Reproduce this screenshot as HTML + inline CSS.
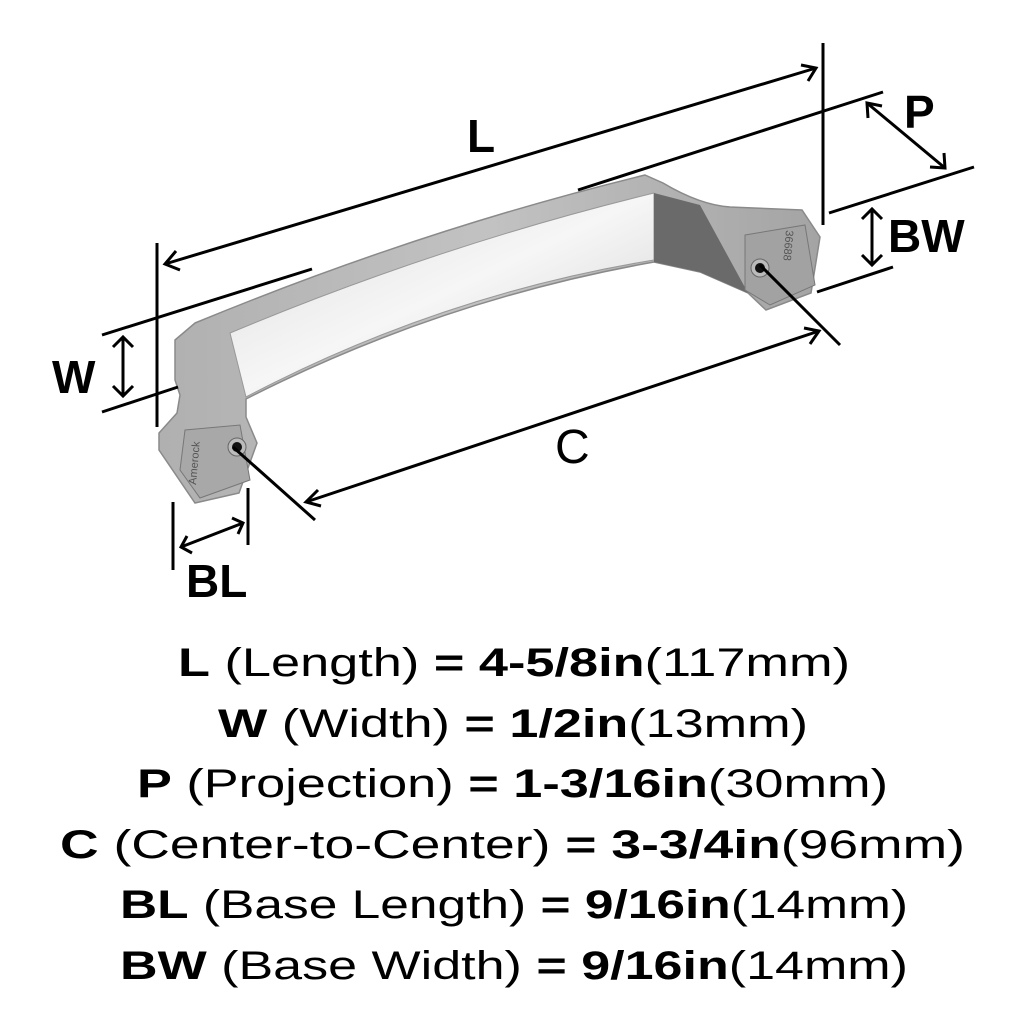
<!DOCTYPE html>
<html><head><meta charset="utf-8"><style>
html,body{margin:0;padding:0;background:#fff;}
svg{display:block;}
</style></head><body>
<svg width="1024" height="1024" viewBox="0 0 1024 1024" xmlns="http://www.w3.org/2000/svg">
<defs>
<linearGradient id="face" x1="0" y1="0" x2="1" y2="1">
<stop offset="0" stop-color="#dcdcdc"/><stop offset="0.5" stop-color="#f6f6f6"/><stop offset="1" stop-color="#cfcfcf"/>
</linearGradient>
<linearGradient id="body" x1="0" y1="0" x2="1" y2="0">
<stop offset="0" stop-color="#b0b0b0"/><stop offset="0.5" stop-color="#c2c2c2"/><stop offset="1" stop-color="#a4a4a4"/>
</linearGradient>
</defs>
<path d="M175,340 L195,323 Q420,230 645,175 L663,183 Q700,205 730,207 L802,210 L820,237 L811,293 L766,310 L748,293 L700,272 L654,262 Q440,300 246,399 L246,417 L257,443 L239,493 L195,503 L159,450 L159,433 L177,413 L180,395 L175,380 Z" fill="url(#body)" stroke="#8a8a8a" stroke-width="1.5"/>
<path d="M230,333 Q440,245 654,193 L654,260 Q440,295 246,397 Z" fill="url(#face)" stroke="#999" stroke-width="1"/>
<path d="M654,193 L700,205 L748,293 L700,272 L654,262 Z" fill="#6a6a6a"/>
<path d="M745,235 L805,225 L815,285 L770,305 L745,290 Z" fill="#a2a2a2" stroke="#777"/>
<path d="M185,430 L240,425 L250,480 L200,498 L180,470 Z" fill="#a8a8a8" stroke="#777"/>
<text x="0" y="0" font-family="Liberation Sans, sans-serif" font-size="11" fill="#555" transform="translate(196,485) rotate(-85)">Amerock</text>
<text x="0" y="0" font-family="Liberation Sans, sans-serif" font-size="11" fill="#555" transform="translate(786,230) rotate(95)">36688</text>
<circle cx="237" cy="447" r="9" fill="#bbb" stroke="#666"/><circle cx="237" cy="447" r="5" fill="#111"/>
<circle cx="760" cy="268" r="9" fill="#bbb" stroke="#666"/><circle cx="760" cy="268" r="5" fill="#111"/>

<g stroke="#000" stroke-width="3" fill="none" stroke-linecap="butt">
<line x1="157" y1="243" x2="157" y2="427"/>
<line x1="823" y1="43" x2="823" y2="225"/>
<line x1="165" y1="264" x2="816" y2="68"/>
<polyline points="176,251 165,264 180,270"/>
<polyline points="801,65 816,68 808,81"/>
<line x1="102" y1="335" x2="312" y2="269"/>
<line x1="102" y1="412" x2="178" y2="387"/>
<line x1="123" y1="337" x2="123" y2="396"/>
<polyline points="113,347 123,337 133,347"/>
<polyline points="113,386 123,396 133,386"/>
<line x1="578" y1="190" x2="883" y2="92"/>
<line x1="829" y1="213" x2="974" y2="167"/>
<line x1="867" y1="103" x2="945" y2="168"/>
<polyline points="868,118 867,103 882,106"/>
<polyline points="930,167 945,168 944,153"/>
<line x1="817" y1="292" x2="893" y2="267"/>
<line x1="872" y1="209" x2="872" y2="265"/>
<polyline points="862,219 872,209 882,219"/>
<polyline points="862,255 872,265 882,255"/>
<line x1="306" y1="502" x2="819" y2="331"/>
<polyline points="318,490 306,502 321,506"/>
<polyline points="804,328 819,331 810,344"/>
<line x1="233" y1="447" x2="315" y2="520"/>
<line x1="760" y1="265" x2="840" y2="345"/>
<line x1="173" y1="502" x2="173" y2="570"/>
<line x1="248" y1="488" x2="248" y2="545"/>
<line x1="181" y1="547" x2="243" y2="523"/>
<polyline points="187,536 181,547 192,553"/>
<polyline points="232,518 243,523 238,534"/>
</g>

<g font-family="Liberation Sans, sans-serif" font-weight="bold" fill="#000" font-size="46">
<text x="467" y="152">L</text>
<text x="904" y="128">P</text>
<text x="888" y="252">BW</text>
<text x="52" y="393">W</text>
<text x="186" y="597">BL</text>
<text x="555" y="463" font-weight="normal" font-size="48">C</text>
</g>

<g font-family="Liberation Sans, sans-serif" font-size="40" fill="#000">
<text x="178" y="676" textLength="672" lengthAdjust="spacingAndGlyphs"><tspan font-weight="bold">L</tspan> (Length) <tspan font-weight="bold">= 4-5/8in</tspan>(117mm)</text>
<text x="218" y="737" textLength="590" lengthAdjust="spacingAndGlyphs"><tspan font-weight="bold">W</tspan> (Width) <tspan font-weight="bold">= 1/2in</tspan>(13mm)</text>
<text x="137" y="797" textLength="751" lengthAdjust="spacingAndGlyphs"><tspan font-weight="bold">P</tspan> (Projection) <tspan font-weight="bold">= 1-3/16in</tspan>(30mm)</text>
<text x="60" y="858" textLength="905" lengthAdjust="spacingAndGlyphs"><tspan font-weight="bold">C</tspan> (Center-to-Center) <tspan font-weight="bold">= 3-3/4in</tspan>(96mm)</text>
<text x="120" y="918" textLength="788" lengthAdjust="spacingAndGlyphs"><tspan font-weight="bold">BL</tspan> (Base Length) <tspan font-weight="bold">= 9/16in</tspan>(14mm)</text>
<text x="120" y="979" textLength="788" lengthAdjust="spacingAndGlyphs"><tspan font-weight="bold">BW</tspan> (Base Width) <tspan font-weight="bold">= 9/16in</tspan>(14mm)</text>
</g>
</svg>
</body></html>
